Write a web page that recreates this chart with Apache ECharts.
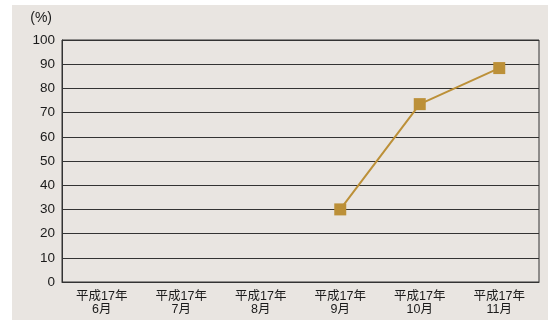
<!DOCTYPE html>
<html>
<head>
<meta charset="utf-8">
<script src="https://cdn.jsdelivr.net/npm/echarts@6/dist/echarts.min.js"></script>
<style>
  html, body { margin: 0; padding: 0; background: #fff; }
  #wrap { position: relative; width: 548px; height: 320px; }
  #bg { position: absolute; left: 12px; top: 5px; width: 536px; height: 315px; background: #e9e5e1; }
  #chart { position: absolute; left: 0; top: 0; width: 548px; height: 320px; }
</style>
</head>
<body>
<div id="wrap">
  <div id="bg"></div>
  <div id="chart"></div>
</div>
<script>
// 月別の値（%）
const categories = ['平成17年\n6月', '平成17年\n7月', '平成17年\n8月', '平成17年\n9月', '平成17年\n10月', '平成17年\n11月'];
const values = [null, null, null, 30, 73.5, 88.4];
const yTicks = [0, 10, 20, 30, 40, 50, 60, 70, 80, 90, 100];

const font = '"Liberation Sans", "Noto Sans CJK JP", sans-serif';

let myChart = echarts.init(document.getElementById('chart'));
myChart.setOption({
  animation: false,
  grid: {
    left: 62,
    right: 9,
    top: 40,
    bottom: 38,
    show: true,
    borderColor: '#333',
    borderWidth: 1
  },
  xAxis: {
    type: 'category',
    data: categories,
    boundaryGap: true,
    axisTick: { show: false },
    axisLine: { lineStyle: { color: '#333', width: 1 } },
    axisLabel: {
      color: '#1a1a1a',
      fontSize: 12.5,
      fontFamily: font,
      lineHeight: 13,
      margin: 8,
      interval: 0
    }
  },
  yAxis: {
    type: 'value',
    min: yTicks[0],
    max: yTicks[yTicks.length - 1],
    interval: 10,
    name: '(%)',
    nameLocation: 'end',
    nameGap: 22,
    nameTextStyle: {
      color: '#1a1a1a',
      fontSize: 14,
      fontFamily: font,
      align: 'right',
      verticalAlign: 'middle',
      padding: [0, 10, 0, 0]
    },
    axisTick: { show: false },
    axisLine: { show: true, lineStyle: { color: '#333', width: 1 } },
    axisLabel: { color: '#1a1a1a', fontSize: 13.5, fontFamily: font, margin: 7 },
    splitLine: { lineStyle: { color: '#333', width: 1 } }
  },
  series: [{
    type: 'line',
    data: values,
    symbol: 'rect',
    symbolSize: 12,
    connectNulls: false,
    lineStyle: { color: '#bc9038', width: 2 },
    itemStyle: { color: '#bc9038' }
  }]
});
</script>
</body>
</html>
